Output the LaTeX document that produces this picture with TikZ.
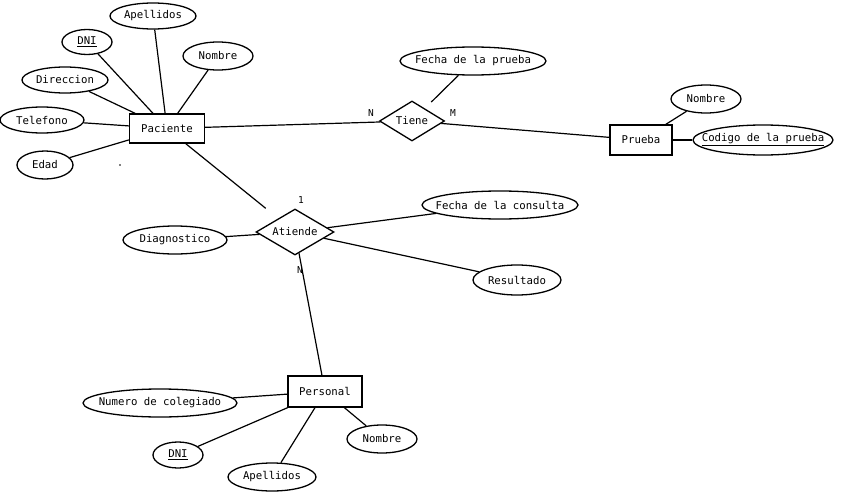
\documentclass[tikz,border=0pt]{standalone}
\usepackage{fontspec}
\setmonofont{DejaVu Sans Mono}
\usetikzlibrary{shapes.geometric}
\begin{document}
\begin{tikzpicture}[x=1pt,y=-1pt,
  every node/.style={font=\ttfamily\fontsize{10.7}{12}\selectfont},
  every label/.style={font=\ttfamily\fontsize{10.7}{12}\selectfont,inner sep=0pt},
  attr/.style={draw,ellipse,line width=1.3pt,inner sep=0pt,label={center:#1}},
  entity/.style={draw,rectangle,line width=1.3pt,inner sep=0pt},
  rel/.style={draw,diamond,aspect=1.6,line width=1.3pt,inner sep=0pt},
  conn/.style={line width=1.2pt},
  card/.style={inner sep=0pt,font=\ttfamily\fontsize{9.5}{11}\selectfont}]
\useasboundingbox[fill=white] (0,0) rectangle (848,495);

% Paciente
\node[entity,minimum width=75pt,minimum height=29pt] (pac) at (167,128.5) {Paciente};
\node[attr={Apellidos},minimum width=86pt,minimum height=26pt] (apel1) at (153,16) {};
\node[attr={\underline{DNI}},minimum width=50pt,minimum height=25pt] (dni1) at (87,42) {};
\node[attr={Nombre},minimum width=70pt,minimum height=28pt] (nom1) at (218,56) {};
\node[attr={Direccion},minimum width=86pt,minimum height=26pt] (dir) at (65,80) {};
\node[attr={Telefono},minimum width=84pt,minimum height=26pt] (tel) at (42,120) {};
\node[attr={Edad},minimum width=56pt,minimum height=28pt] (edad) at (45,165) {};
\fill (120,165) circle (0.8);

% Tiene
\node[rel,minimum width=65pt,minimum height=40pt] (tiene) at (412,121) {Tiene};
\node[attr={Fecha de la prueba},minimum width=146pt,minimum height=28pt] (fp) at (473,61) {};
\node[card] (n1) at (371,113) {N};
\node[card] (m1) at (453,113) {M};

% Prueba
\node[entity,minimum width=62pt,minimum height=30pt] (prueba) at (641,140) {Prueba};
\node[attr={Nombre},minimum width=70pt,minimum height=28pt] (nom2) at (706,99) {};
\node[attr={\underline{Codigo de la prueba}},minimum width=140pt,minimum height=30pt] (cod) at (763,140) {};

% Atiende
\node[rel,minimum width=78pt,minimum height=46pt] (atiende) at (295,232) {Atiende};
\node[attr={Diagnostico},minimum width=104pt,minimum height=28pt] (diag) at (175,240) {};
\node[attr={Fecha de la consulta},minimum width=156pt,minimum height=28pt] (fc) at (500,205) {};
\node[attr={Resultado},minimum width=88pt,minimum height=30pt] (res) at (517,280) {};
\node[card] (c1) at (301,200) {1};
\node[card] (cn) at (300,270) {N};

% Personal
\node[entity,minimum width=74pt,minimum height=31pt] (pers) at (325,391.5) {Personal};
\node[attr={Numero de colegiado},minimum width=154pt,minimum height=28pt] (numc) at (160,403) {};
\node[attr={\underline{DNI}},minimum width=50pt,minimum height=26pt] (dni2) at (178,455) {};
\node[attr={Apellidos},minimum width=88pt,minimum height=28pt] (apel2) at (272,477) {};
\node[attr={Nombre},minimum width=70pt,minimum height=28pt] (nom3) at (382,439) {};

% connectors
\draw[conn] (pac) -- (apel1);
\draw[conn] (pac) -- (dni1);
\draw[conn] (pac) -- (nom1);
\draw[conn] (pac) -- (dir);
\draw[conn] (pac) -- (tel);
\draw[conn] (pac) -- (edad);
\draw[conn] (pac) -- (tiene);
\draw[conn,shorten <=9pt] (tiene) -- (fp);
\draw[conn] (tiene) -- (prueba);
\draw[conn] (prueba) -- (nom2);
\draw[conn] (prueba) -- (cod);
\draw[conn,shorten >=16pt] (pac) -- (atiende);
\draw[conn] (atiende) -- (diag);
\draw[conn] (atiende) -- (fc);
\draw[conn] (atiende) -- (res);
\draw[conn] (atiende) -- (pers);
\draw[conn] (pers) -- (numc);
\draw[conn] (pers) -- (dni2);
\draw[conn] (pers) -- (apel2);
\draw[conn] (pers) -- (nom3);
\end{tikzpicture}
\end{document}
